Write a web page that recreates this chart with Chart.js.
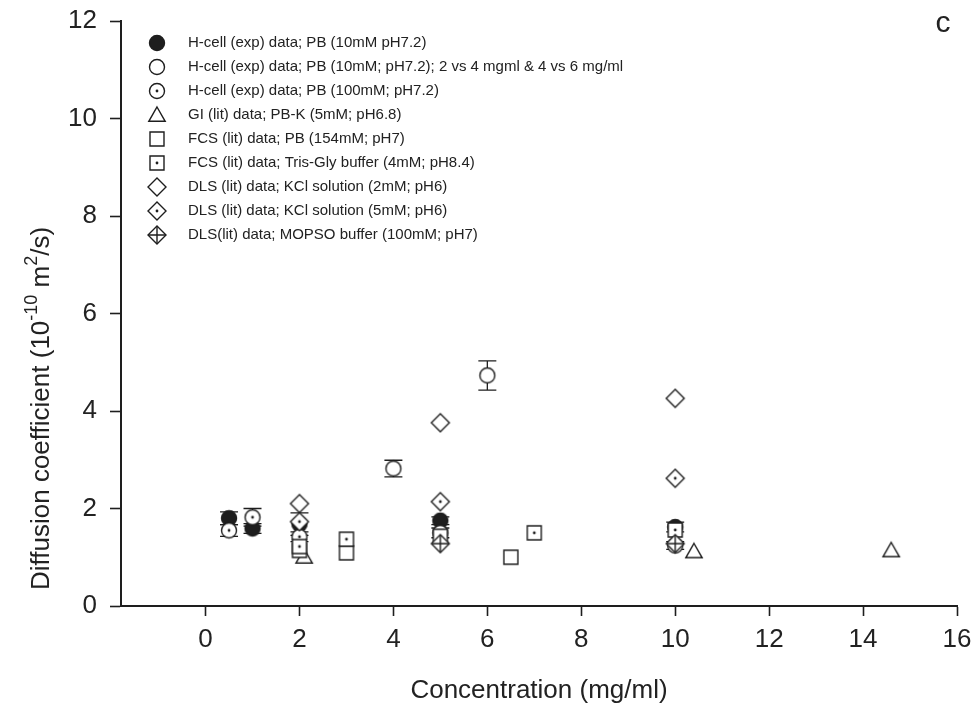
<!DOCTYPE html>
<html>
<head>
<meta charset="utf-8">
<script src="https://cdn.jsdelivr.net/npm/chart.js@4/dist/chart.umd.min.js"></script>
<style>
    body { margin: 0; background: #fff; }
    canvas { display: block; }
</style>
</head>
<body>
<canvas id="diffChart" width="977" height="715"></canvas>
<script>
// Diffusion coefficient (10^-10 m^2/s) against concentration (mg/ml)
const hcell10X = [0.5, 1, 2, 5, 10];
const hcell10Y = [1.8, 1.59, 1.68, 1.75, 1.62];
const hcell10Err = [0.13, 0.1, 0.23, 0.08, 0.1];

const hcellGradX = [4, 6];
const hcellGradY = [2.82, 4.73];
const hcellGradErr = [0.17, 0.3];

const hcell100X = [0.5, 1, 2, 5, 10];
const hcell100Y = [1.55, 1.82, 1.42, 1.5, 1.24];
const hcell100Err = [0.12, 0.18, 0.1, 0.1, 0.08];

const giX = [2.1, 10.4, 14.6];
const giY = [1.01, 1.12, 1.14];

const fcsPbX = [2, 3, 5, 6.5];
const fcsPbY = [1.14, 1.09, 1.43, 1.0];

const fcsTrisX = [2, 3, 7, 10];
const fcsTrisY = [1.22, 1.37, 1.5, 1.56];

const dlsKcl2X = [2, 5, 10];
const dlsKcl2Y = [2.1, 3.76, 4.26];

const dlsKcl5X = [2, 5, 10];
const dlsKcl5Y = [1.73, 2.14, 2.62];

const dlsMopsoX = [5, 10];
const dlsMopsoY = [1.28, 1.28];

const xTicks = [0, 2, 4, 6, 8, 10, 12, 14, 16];
const yTicks = [0, 2, 4, 6, 8, 10, 12];

const ink = '#1e1e1e';
const textColor = '#222';
const fontFamily = "'Liberation Sans', Arial, sans-serif";

// small canvases used as point styles
function makeMarker(kind) {
    const c = document.createElement('canvas');
    c.width = 26;
    c.height = 26;
    const g = c.getContext('2d');
    g.translate(13, 13);
    g.lineWidth = 1.4;
    g.strokeStyle = ink;
    g.fillStyle = '#fff';

    const dot = () => {
        g.beginPath();
        g.arc(0, 0, 1.4, 0, Math.PI * 2);
        g.fillStyle = ink;
        g.fill();
    };

    g.beginPath();
    if (kind.startsWith('circle')) {
        g.arc(0, 0, 7.5, 0, Math.PI * 2);
    } else if (kind === 'triangle') {
        g.moveTo(0, -8);
        g.lineTo(8.2, 6.3);
        g.lineTo(-8.2, 6.3);
        g.closePath();
    } else if (kind.startsWith('square')) {
        g.rect(-7, -7, 14, 14);
    } else {
        g.moveTo(0, -9);
        g.lineTo(9, 0);
        g.lineTo(0, 9);
        g.lineTo(-9, 0);
        g.closePath();
    }
    if (kind === 'circleFilled') {
        g.fillStyle = ink;
    }
    g.fill();
    g.stroke();

    if (kind.endsWith('Dot')) dot();
    if (kind === 'diamondCross') {
        g.beginPath();
        g.moveTo(0, -9);
        g.lineTo(0, 9);
        g.moveTo(-9, 0);
        g.lineTo(9, 0);
        g.stroke();
    }
    return c;
}

function toPoints(xs, ys) {
    return xs.map((x, i) => ({ x: x, y: ys[i] }));
}

const seriesList = [
    { label: 'H-cell (exp) data; PB (10mM pH7.2)', xs: hcell10X, ys: hcell10Y, err: hcell10Err, marker: 'circleFilled' },
    { label: 'H-cell (exp) data; PB (10mM; pH7.2); 2 vs 4 mgml & 4 vs 6 mg/ml', xs: hcellGradX, ys: hcellGradY, err: hcellGradErr, marker: 'circle' },
    { label: 'H-cell (exp) data; PB (100mM; pH7.2)', xs: hcell100X, ys: hcell100Y, err: hcell100Err, marker: 'circleDot' },
    { label: 'GI (lit) data; PB-K (5mM; pH6.8)', xs: giX, ys: giY, marker: 'triangle' },
    { label: 'FCS (lit) data; PB (154mM; pH7)', xs: fcsPbX, ys: fcsPbY, marker: 'square' },
    { label: 'FCS (lit) data; Tris-Gly buffer (4mM; pH8.4)', xs: fcsTrisX, ys: fcsTrisY, marker: 'squareDot' },
    { label: 'DLS (lit) data; KCl solution (2mM; pH6)', xs: dlsKcl2X, ys: dlsKcl2Y, marker: 'diamond' },
    { label: 'DLS (lit) data; KCl solution (5mM; pH6)', xs: dlsKcl5X, ys: dlsKcl5Y, marker: 'diamondDot' },
    { label: 'DLS(lit) data; MOPSO buffer (100mM; pH7)', xs: dlsMopsoX, ys: dlsMopsoY, marker: 'diamondCross' }
];

const datasets = seriesList.map((s, i) => {
    const img = makeMarker(s.marker);
    return {
        label: s.label,
        data: toPoints(s.xs, s.ys),
        errorBars: s.err || null,
        pointStyle: img,
        pointRadius: 9,
        pointHoverRadius: 9,
        showLine: false,
        // later series sit on top
        order: seriesList.length - i
    };
});

const errorBarPlugin = {
    id: 'errorBars',
    beforeDatasetsDraw(chart) {
        const ctx = chart.ctx;
        const xs = chart.scales.x;
        const ys = chart.scales.y;
        ctx.save();
        ctx.strokeStyle = ink;
        ctx.lineWidth = 1.3;
        chart.data.datasets.forEach(ds => {
            if (!ds.errorBars) return;
            ds.data.forEach((p, i) => {
                const e = ds.errorBars[i];
                const px = xs.getPixelForValue(p.x);
                const top = ys.getPixelForValue(p.y + e);
                const bot = ys.getPixelForValue(p.y - e);
                ctx.beginPath();
                ctx.moveTo(px, top);
                ctx.lineTo(px, bot);
                ctx.moveTo(px - 9, top);
                ctx.lineTo(px + 9, top);
                ctx.moveTo(px - 9, bot);
                ctx.lineTo(px + 9, bot);
                ctx.stroke();
            });
        });
        ctx.restore();
    }
};

// legend inside the plot, y-axis title with superscripts, panel letter
const decorPlugin = {
    id: 'decor',
    afterDraw(chart) {
        const ctx = chart.ctx;
        ctx.save();

        ctx.font = '15px ' + fontFamily;
        ctx.fillStyle = textColor;
        ctx.textBaseline = 'middle';
        ctx.textAlign = 'left';
        chart.data.datasets.forEach((ds, i) => {
            const y = 43 + i * 24;
            const img = ds.pointStyle;
            ctx.drawImage(img, 157 - img.width / 2, y - img.height / 2);
            ctx.fillText(ds.label, 188, y);
        });

        // y-axis title, starts near the bottom of the axis
        const big = '26px ' + fontFamily;
        const small = '18px ' + fontFamily;
        const parts = [
            { t: 'Diffusion coefficient (10', f: big, dy: 0 },
            { t: '-10', f: small, dy: -10 },
            { t: ' m', f: big, dy: 0 },
            { t: '2', f: small, dy: -10 },
            { t: '/s)', f: big, dy: 0 }
        ];
        parts.forEach(p => {
            ctx.font = p.f;
            p.w = ctx.measureText(p.t).width;
        });
        ctx.translate(42, 590);
        ctx.rotate(-Math.PI / 2);
        let cx = 0;
        parts.forEach(p => {
            ctx.font = p.f;
            ctx.fillText(p.t, cx, p.dy);
            cx += p.w;
        });
        ctx.restore();

        ctx.save();
        ctx.font = '30px ' + fontFamily;
        ctx.fillStyle = textColor;
        ctx.textAlign = 'center';
        ctx.textBaseline = 'middle';
        ctx.fillText('c', 943, 24);
        ctx.restore();
    }
};

const axisFont = { family: fontFamily, size: 26 };

const ctx = document.getElementById('diffChart').getContext('2d');
new Chart(ctx, {
    type: 'scatter',
    data: { datasets: datasets },
    options: {
        responsive: false,
        animation: false,
        events: [],
        layout: { padding: { top: 21, right: 20, left: 0, bottom: 0 } },
        plugins: {
            legend: { display: false },
            tooltip: { enabled: false }
        },
        scales: {
            x: {
                type: 'linear',
                min: -1.8,
                max: 16,
                afterBuildTicks: scale => { scale.ticks = xTicks.map(v => ({ value: v })); },
                afterFit: scale => {
                    scale.height = 109;
                    scale.paddingLeft = 0;
                    scale.paddingRight = 0;
                },
                grid: { drawOnChartArea: false, tickLength: 10, tickColor: ink, tickWidth: 1.6 },
                border: { color: ink, width: 2 },
                ticks: { font: axisFont, color: textColor, padding: 8, maxRotation: 0 },
                title: {
                    display: true,
                    text: 'Concentration (mg/ml)',
                    font: axisFont,
                    color: textColor,
                    padding: { top: 0, bottom: 9 }
                }
            },
            y: {
                min: 0,
                max: 12,
                afterBuildTicks: scale => { scale.ticks = yTicks.map(v => ({ value: v })); },
                afterFit: scale => {
                    scale.width = 121;
                    scale.paddingTop = 0;
                    scale.paddingBottom = 0;
                },
                grid: { drawOnChartArea: false, tickLength: 11, tickColor: ink, tickWidth: 1.6 },
                border: { color: ink, width: 2 },
                ticks: { font: axisFont, color: textColor, padding: 13 }
            }
        }
    },
    plugins: [errorBarPlugin, decorPlugin]
});
</script>
</body>
</html>
